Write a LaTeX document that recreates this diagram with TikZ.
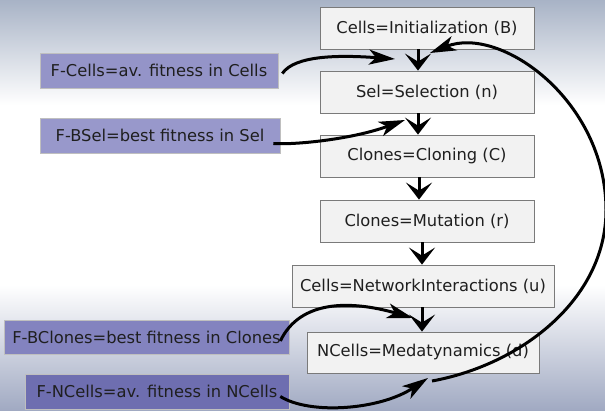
\documentclass[tikz,border=0pt]{standalone}
\usepackage{fontspec}
\setmainfont{DejaVu Sans}
\usetikzlibrary{arrows.meta}
\definecolor{bgtop}{HTML}{A8B3C6}
\definecolor{bgbot}{HTML}{A0A9C2}
\definecolor{boxfill}{HTML}{F2F2F2}
\definecolor{boxline}{HTML}{7A7A7A}
\definecolor{fa}{HTML}{9494C8}
\definecolor{fb}{HTML}{9898CB}
\definecolor{fc}{HTML}{8383BF}
\definecolor{fd}{HTML}{6E6EB0}
\tikzset{
  stepbox/.style={draw=boxline, line width=0.8pt, fill=boxfill, inner sep=0pt, font=\fontsize{16.3pt}{19pt}\selectfont, text=black!88},
  fitbox/.style={draw=black!25, line width=0.6pt, inner sep=0pt, font=\fontsize{16.3pt}{19pt}\selectfont, text=black!88},
  flow/.style={line width=3pt, -{Stealth[length=17pt,width=26pt,inset=8pt]}},
  feed/.style={line width=3pt, -{Stealth[length=26pt,width=15pt,inset=7pt]}},
  plain/.style={line width=3pt}
}
\begin{document}
\begin{tikzpicture}[x=1pt,y=-1pt]
\useasboundingbox (0,0) rectangle (605,411);
\shade[top color=bgtop, bottom color=white] (0,0) rectangle (605,105);
\fill[white] (0,105) rectangle (605,285);
\shade[top color=white, bottom color=bgbot] (0,285) rectangle (605,411);

\node[stepbox, minimum width=214pt, minimum height=42pt] (B1) at (427,28) {Cells=Initialization (B)};
\node[stepbox, minimum width=214pt, minimum height=42pt] (B2) at (427,92) {Sel=Selection (n)};
\node[stepbox, minimum width=214pt, minimum height=42pt] (B3) at (427,156) {Clones=Cloning (C)};
\node[stepbox, minimum width=214pt, minimum height=42pt] (B4) at (427,221) {Clones=Mutation (r)};
\node[stepbox, minimum width=262pt, minimum height=42pt] (B5) at (423,286) {Cells=NetworkInteractions (u)};
\node[stepbox, minimum width=232pt, minimum height=41pt] (B6) at (423,352.5) {NCells=Medatynamics (d)};

\node[fitbox, fill=fa, minimum width=238pt, minimum height=35pt] (L1) at (159,70.5) {F-Cells=av. fitness in Cells};
\node[fitbox, fill=fb, minimum width=240pt, minimum height=35pt] (L2) at (160,135.5) {F-BSel=best fitness in Sel};
\node[fitbox, fill=fc, minimum width=285pt, minimum height=34pt] (L3) at (146.5,337) {F-BClones=best fitness in Clones};
\node[fitbox, fill=fd, minimum width=264pt, minimum height=35pt] (L4) at (157,391.5) {F-NCells=av. fitness in NCells};

\draw[flow] ([xshift=-9pt]B1.south) -- ([xshift=-9pt]B2.north);
\draw[flow] ([xshift=-9pt]B2.south) -- ([xshift=-9pt]B3.north);
\draw[flow] ([xshift=-8pt]B3.south) -- ([xshift=-8pt]B4.north);
\draw[flow] ([xshift=-5pt]B4.south) -- ([xshift=-5pt]B5.north -| B4.south);
\draw[flow] ([xshift=-1pt]B5.south) -- ([xshift=-1pt]B6.north);

\coordinate (t1) at (395,59);
\coordinate (t2) at (405,120);
\coordinate (t3) at (413,318);
\coordinate (t4) at (428,378);
\coordinate (a0) at (432,381);
\coordinate (t5) at (430,53);

\draw[feed] ([xshift=4pt,yshift=-3pt]L1.east) .. controls (295,55) and (340,55) .. (t1);
\draw[feed] ([xshift=-7pt,yshift=-8pt]L2.east) .. controls (292,145) and (350,140) .. (t2);
\draw[feed] ([xshift=-9pt,yshift=-4pt]L3.east) .. controls (300,300) and (350,300) .. (t3);
\draw[feed] ([xshift=-9pt,yshift=-5pt]L4.east) .. controls (310,415) and (380,410) .. (t4);
\draw[feed] (a0) .. controls (520,365) and (606,300) .. (606,210) .. controls (606,100) and (500,25) .. (t5);
\end{tikzpicture}
\end{document}
